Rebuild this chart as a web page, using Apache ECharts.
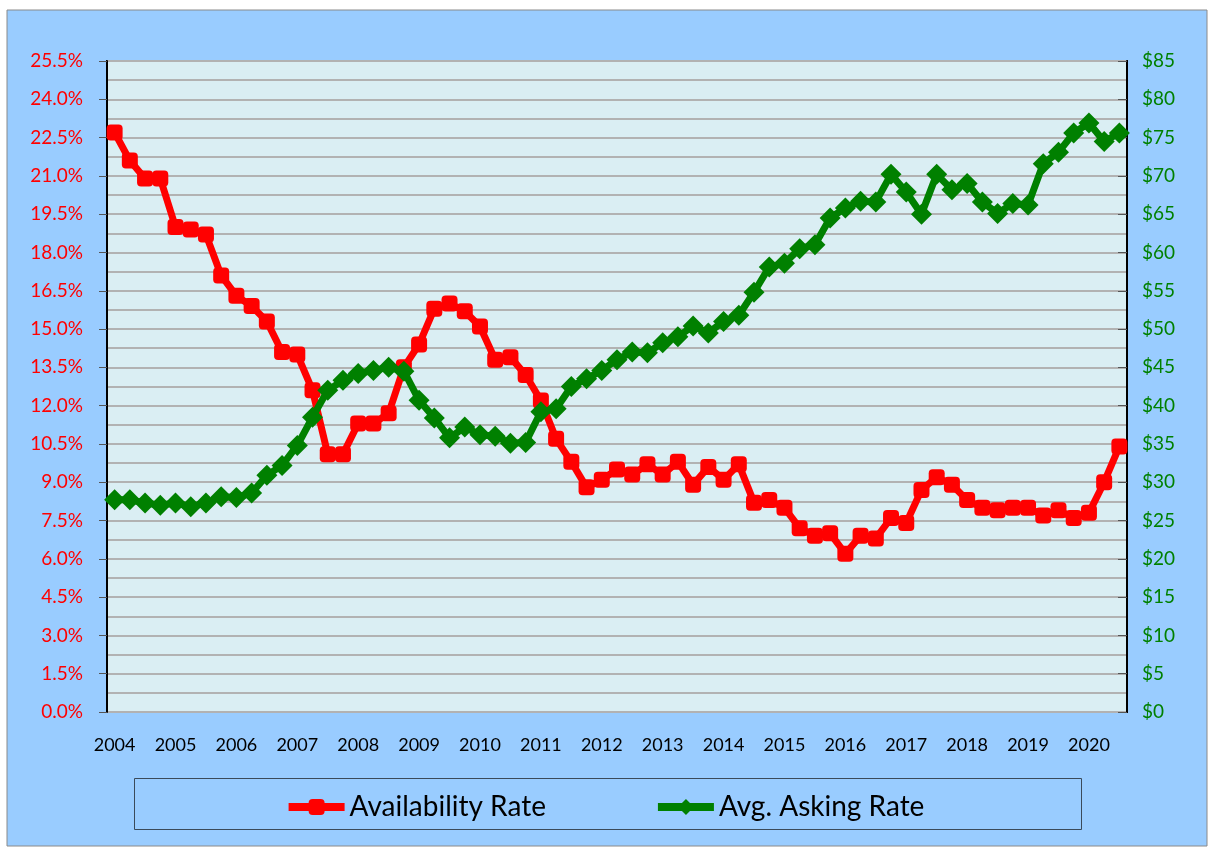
<!DOCTYPE html>
<html>
<head>
<meta charset="utf-8">
<script src="https://cdn.jsdelivr.net/npm/echarts@6/dist/echarts.min.js"></script>
<style>
    html, body { margin: 0; padding: 0; background: #fff; }
    #chart { width: 1209px; height: 848px; }
</style>
</head>
<body>
<div id="chart"></div>
<script>
// quarters 2004 Q1 .. 2020 Q3
var years = ['2004','2005','2006','2007','2008','2009','2010','2011','2012',
             '2013','2014','2015','2016','2017','2018','2019','2020'];
var quarters = [];
years.forEach(function (y) {
    ['Q1','Q2','Q3','Q4'].forEach(function (q) { quarters.push(y + ' ' + q); });
});
quarters = quarters.slice(0, 67);

// availability rate, %
var availability = [
    22.7, 21.6, 20.9, 20.9, 19.0, 18.9, 18.7, 17.1, 16.3, 15.9,
    15.3, 14.1, 14.0, 12.6, 10.1, 10.1, 11.3, 11.3, 11.7, 13.5,
    14.4, 15.8, 16.0, 15.7, 15.1, 13.8, 13.9, 13.2, 12.2, 10.7,
    9.8, 8.8, 9.1, 9.5, 9.3, 9.7, 9.3, 9.8, 8.9, 9.6,
    9.1, 9.7, 8.2, 8.3, 8.0, 7.2, 6.9, 7.0, 6.2, 6.9,
    6.8, 7.6, 7.4, 8.7, 9.2, 8.9, 8.3, 8.0, 7.9, 8.0,
    8.0, 7.7, 7.9, 7.6, 7.8, 9.0, 10.4
];

// average asking rate, $
var askingRate = [
    27.7, 27.7, 27.3, 27.0, 27.3, 26.8, 27.3, 28.1, 28.0, 28.6,
    30.9, 32.2, 34.8, 38.5, 42.0, 43.3, 44.2, 44.6, 45.0, 44.5,
    40.7, 38.4, 35.8, 37.2, 36.2, 36.0, 35.1, 35.2, 39.2, 39.6,
    42.5, 43.5, 44.6, 46.0, 47.0, 46.9, 48.2, 49.0, 50.4, 49.5,
    51.0, 51.8, 54.8, 58.1, 58.6, 60.5, 61.0, 64.5, 65.8, 66.7,
    66.6, 70.2, 67.9, 65.0, 70.2, 68.2, 69.0, 66.6, 65.1, 66.4,
    66.2, 71.6, 73.1, 75.6, 76.9, 74.5, 75.6
];

var labelFont = 'Lato, "Open Sans", sans-serif';

var chart = echarts.init(document.getElementById('chart'));
chart.setOption({
    animation: false,
    graphic: [
        {
            type: 'rect', z: -10, silent: true,
            shape: { x: 7, y: 10, width: 1200, height: 836 },
            style: { fill: '#99CCFF', stroke: '#8a8a8a', lineWidth: 1 }
        },
        {
            type: 'rect', z: -5, silent: true,
            shape: { x: 134.5, y: 778.5, width: 947, height: 51 },
            style: { fill: '#99CCFF', stroke: '#3a4a5a', lineWidth: 1 }
        }
    ],
    grid: {
        left: 107, right: 82, top: 61, bottom: 136,
        show: true,
        backgroundColor: '#DAEEF3',
        borderColor: '#000',
        borderWidth: 2
    },
    legend: {
        left: 'center',
        top: 788,
        itemWidth: 56,
        itemHeight: 20,
        itemGap: 108,
        lineStyle: { width: 8 },
        textStyle: { fontFamily: labelFont, fontSize: 28, color: '#000' },
        data: ['Availability Rate', 'Avg. Asking Rate']
    },
    xAxis: {
        type: 'category',
        data: quarters,
        boundaryGap: true,
        axisLine: { show: false },
        axisTick: { show: false },
        axisLabel: {
            interval: 0,
            margin: 24,
            fontFamily: labelFont,
            fontSize: 18,
            color: '#000',
            formatter: function (v) {
                return v.slice(5) === 'Q1' ? v.slice(0, 4) : '';
            }
        }
    },
    yAxis: [
        {
            type: 'value',
            min: 0, max: 25.5, interval: 1.5,
            axisLine: { show: true, lineStyle: { color: '#000', width: 2 } },
            axisTick: { show: true, length: 8, lineStyle: { color: '#555' } },
            axisLabel: {
                margin: 24,
                fontFamily: labelFont,
                fontSize: 19,
                color: '#FF0000',
                formatter: function (v) { return v.toFixed(1) + '%'; }
            },
            splitLine: { show: true, lineStyle: { color: '#B2B2B2', width: 2 } },
            minorTick: { show: false, splitNumber: 2 },
            minorSplitLine: { show: true, lineStyle: { color: '#B2B2B2', width: 2 } }
        },
        {
            type: 'value',
            min: 0, max: 85, interval: 5,
            position: 'right',
            axisLine: { show: true, lineStyle: { color: '#000', width: 2 } },
            axisTick: { show: true, inside: true, length: 9, lineStyle: { color: '#555' } },
            axisLabel: {
                margin: 15,
                fontFamily: labelFont,
                fontSize: 19,
                color: '#008000',
                formatter: function (v) { return '$' + v; }
            },
            splitLine: { show: false }
        }
    ],
    series: [
        {
            name: 'Availability Rate',
            type: 'line',
            yAxisIndex: 0,
            data: availability,
            symbol: 'roundRect',
            symbolSize: 16,
            showAllSymbol: true,
            color: '#FF0000',
            lineStyle: { color: '#FF0000', width: 7 },
            itemStyle: { color: '#FF0000' }
        },
        {
            name: 'Avg. Asking Rate',
            type: 'line',
            yAxisIndex: 1,
            data: askingRate,
            symbol: 'diamond',
            symbolSize: 21,
            showAllSymbol: true,
            color: '#008000',
            lineStyle: { color: '#008000', width: 7 },
            itemStyle: { color: '#008000' }
        }
    ]
});
</script>
</body>
</html>
